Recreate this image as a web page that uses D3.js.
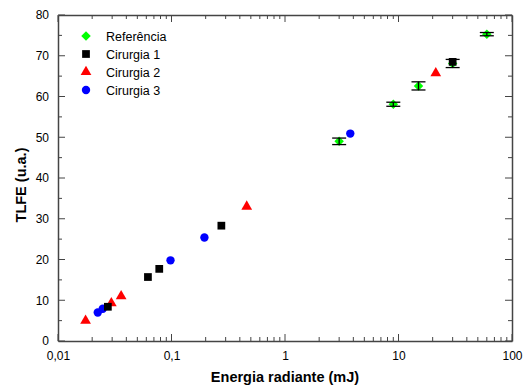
<!DOCTYPE html>
<html>
<head>
<meta charset="utf-8">
<script src="https://cdn.jsdelivr.net/npm/d3@7"></script>
<style>
  body { margin: 0; background: #fff; }
  svg { font-family: "Liberation Sans", Arial, sans-serif; }
</style>
</head>
<body>
<svg width="523" height="385"></svg>
<script>
// data
const refX = [3, 9, 15, 30, 60];
const refY = [49.0, 58.1, 62.6, 68.1, 75.3];
const refErr = [0.8, 0.5, 1.0, 1.0, 0.4];

const cir1X = [0.0275, 0.062, 0.078, 0.275, 30];
const cir1Y = [8.4, 15.7, 17.7, 28.3, 68.5];

const cir2X = [0.0175, 0.0295, 0.036, 0.46, 21.3];
const cir2Y = [5.0, 9.3, 11.0, 33.0, 65.7];

const cir3X = [0.0224, 0.0248, 0.098, 0.195, 3.76];
const cir3Y = [7.0, 7.9, 19.8, 25.4, 50.9];

const xTicks = [0.01, 0.1, 1, 10, 100];
const xTickLabels = ["0,01", "0,1", "1", "10", "100"];
const yTicks = [0, 10, 20, 30, 40, 50, 60, 70, 80];

const seriesNames = ["Referência", "Cirurgia 1", "Cirurgia 2", "Cirurgia 3"];

const svg = d3.select("svg");
const attr_area = { left: 58, right: 512, top: 15, bottom: 341 };

const scX = d3.scaleLog().domain([0.01, 100]).range([attr_area.left, attr_area.right]);
const scY = d3.scaleLinear().domain([0, 80]).range([attr_area.bottom, attr_area.top]);

const axisColor = "#444";

// minor ticks
let minorX = [];
for (let dec = 0.01; dec < 100; dec *= 10) {
    for (let k = 2; k <= 9; k++) minorX.push(+(dec * k).toPrecision(3));
}
let minorY = d3.range(5, 80, 10);

function drawAxes() {
    const g = svg.append("g");
    // bottom, ticks inward
    const bottom = g.append("g").attr("transform", `translate(0,${attr_area.bottom})`);
    bottom.call(d3.axisBottom(scX).tickValues(xTicks).tickSize(0).tickFormat((d, i) => xTickLabels[i]).tickPadding(10));
    bottom.selectAll(".tick text").style("font-size", "12px").attr("fill", "#000");
    // top
    const top = g.append("g").attr("transform", `translate(0,${attr_area.top})`);
    top.call(d3.axisTop(scX).tickValues([]).tickSize(0));
    // left
    const left = g.append("g").attr("transform", `translate(${attr_area.left},0)`);
    left.call(d3.axisLeft(scY).tickValues(yTicks).tickSize(0).tickPadding(9));
    left.selectAll(".tick text").style("font-size", "12px").attr("fill", "#000");
    // right
    const right = g.append("g").attr("transform", `translate(${attr_area.right},0)`);
    right.call(d3.axisRight(scY).tickValues([]).tickSize(0));

    g.selectAll(".domain").attr("stroke", axisColor).attr("stroke-width", 1.5);

    // inward ticks
    const t = g.append("g").attr("stroke", axisColor).attr("stroke-width", 1);
    const xMaj = xTicks, yMaj = yTicks;
    [[xMaj, 7], [minorX, 4]].forEach(([vals, len]) => {
        t.selectAll(null).data(vals).enter().append("line")
            .attr("x1", d => scX(d)).attr("x2", d => scX(d))
            .attr("y1", attr_area.bottom).attr("y2", attr_area.bottom - len);
        t.selectAll(null).data(vals).enter().append("line")
            .attr("x1", d => scX(d)).attr("x2", d => scX(d))
            .attr("y1", attr_area.top).attr("y2", attr_area.top + len);
    });
    [[yMaj, 7], [minorY, 4]].forEach(([vals, len]) => {
        t.selectAll(null).data(vals).enter().append("line")
            .attr("y1", d => scY(d)).attr("y2", d => scY(d))
            .attr("x1", attr_area.left).attr("x2", attr_area.left + len);
        t.selectAll(null).data(vals).enter().append("line")
            .attr("y1", d => scY(d)).attr("y2", d => scY(d))
            .attr("x1", attr_area.right).attr("x2", attr_area.right - len);
    });

    svg.append("text")
        .attr("x", 285)
        .attr("y", 382)
        .attr("text-anchor", "middle")
        .style("font-size", "14.5px").style("font-weight", "bold")
        .text("Energia radiante (mJ)");

    svg.append("text")
        .attr("transform", `translate(26,185) rotate(-90)`)
        .attr("text-anchor", "middle")
        .style("font-size", "14.5px").style("font-weight", "bold")
        .text("TLFE (u.a.)");
}

const diamond = d3.symbol().type(d3.symbolSquare).size(45);
const square = d3.symbol().type(d3.symbolSquare).size(60);
const triangle = d3.symbol().type(d3.symbolTriangle).size(50);
const circle = d3.symbol().type(d3.symbolCircle).size(55);

const styles = [
    { path: diamond(), fill: "#00ff00", rot: 45 },
    { path: square(), fill: "#000000", rot: 0 },
    { path: triangle(), fill: "#ff0000", rot: 0 },
    { path: circle(), fill: "#0000ff", rot: 0 }
];

function drawPoints(xs, ys, st) {
    svg.append("g").selectAll("path")
        .data(xs.map((x, i) => ({ x: x, y: ys[i] })))
        .enter()
        .append("path")
        .attr("d", st.path)
        .attr("fill", st.fill)
        .attr("transform", d => `translate(${scX(d.x)},${scY(d.y)}) rotate(${st.rot})`);
}

function drawErrors(xs, ys, errs) {
    const g = svg.append("g").attr("stroke", "#000").attr("stroke-width", 1.3);
    const data = xs.map((x, i) => ({ x: x, y: ys[i], e: errs[i] }));
    g.selectAll(".v").data(data).enter().append("line")
        .attr("x1", d => scX(d.x)).attr("x2", d => scX(d.x))
        .attr("y1", d => scY(d.y - d.e)).attr("y2", d => scY(d.y + d.e));
    ["lo", "hi"].forEach(k => {
        g.selectAll(null).data(data).enter().append("line")
            .attr("x1", d => scX(d.x) - 7).attr("x2", d => scX(d.x) + 7)
            .attr("y1", d => scY(k === "lo" ? d.y - d.e : d.y + d.e))
            .attr("y2", d => scY(k === "lo" ? d.y - d.e : d.y + d.e));
    });
}

drawAxes();
drawPoints(refX, refY, styles[0]);
drawErrors(refX, refY, refErr);
drawPoints(cir3X, cir3Y, styles[3]);
drawPoints(cir2X, cir2Y, styles[2]);
drawPoints(cir1X, cir1Y, styles[1]);

// legend
const legend = svg.append("g");
seriesNames.forEach((name, i) => {
    const y = 36 + i * 18;
    legend.append("path").attr("d", styles[i].path).attr("fill", styles[i].fill)
        .attr("transform", `translate(86,${y}) rotate(${styles[i].rot})`);
    legend.append("text").attr("x", 106).attr("y", y + 4.5)
        .style("font-size", "12.5px").text(name);
});
</script>
</body>
</html>
